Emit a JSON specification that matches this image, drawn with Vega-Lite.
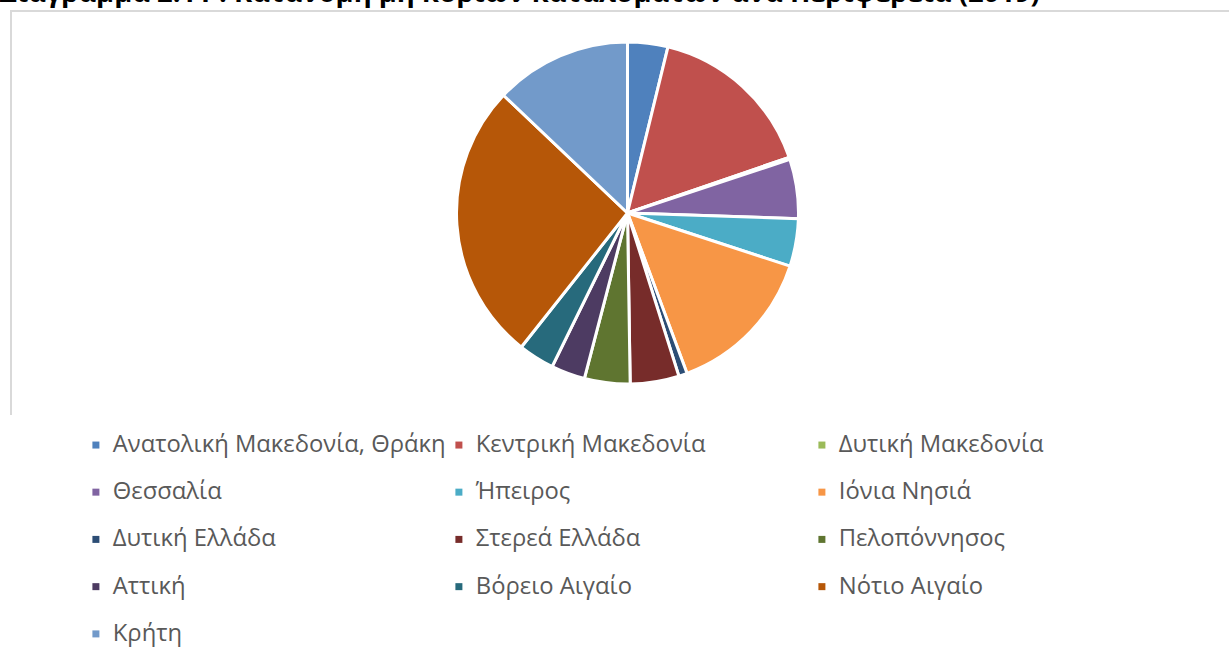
{
  "$schema": "https://vega.github.io/schema/vega-lite/v6.json",
  "width": 1233,
  "height": 404,
  "autosize": {"type": "none"},
  "padding": {"left": 11, "top": 11, "right": -15, "bottom": 239},
  "background": "white",
  "view": {"stroke": "#d9d9d9", "strokeWidth": 2, "strokeDash": [1233, 1637, 404]},
  "title": {
    "text": "Διάγραμμα 2.11 : Κατανομή μη κυρίων καταλυμάτων ανά Περιφέρεια (2019)",
    "anchor": "start",
    "font": "Open Sans",
    "fontSize": 27.4,
    "fontWeight": "bold",
    "color": "#000000",
    "offset": -18,
    "dx": -12,
    "baseline": "alphabetic"
  },
  "data": {
    "values": [
      {"region": "Ανατολική Μακεδονία, Θράκη", "share": 3.8},
      {"region": "Κεντρική Μακεδονία", "share": 15.9},
      {"region": "Δυτική Μακεδονία", "share": 0.2},
      {"region": "Θεσσαλία", "share": 5.6},
      {"region": "Ήπειρος", "share": 4.5},
      {"region": "Ιόνια Νησιά", "share": 14.3},
      {"region": "Δυτική Ελλάδα", "share": 0.8},
      {"region": "Στερεά Ελλάδα", "share": 4.6},
      {"region": "Πελοπόννησος", "share": 4.3},
      {"region": "Αττική", "share": 3.2},
      {"region": "Βόρειο Αιγαίο", "share": 3.4},
      {"region": "Νότιο Αιγαίο", "share": 26.4},
      {"region": "Κρήτη", "share": 12.9}
    ]
  },
  "transform": [{"window": [{"op": "row_number", "as": "idx"}]}],
  "mark": {"type": "arc", "radius": 171, "stroke": "white", "strokeWidth": 3},
  "encoding": {
    "theta": {"field": "share", "type": "quantitative", "stack": true},
    "order": {"field": "idx", "type": "quantitative"},
    "color": {
      "field": "region",
      "type": "nominal",
      "scale": {
        "domain": ["Ανατολική Μακεδονία, Θράκη", "Κεντρική Μακεδονία", "Δυτική Μακεδονία", "Θεσσαλία", "Ήπειρος", "Ιόνια Νησιά", "Δυτική Ελλάδα", "Στερεά Ελλάδα", "Πελοπόννησος", "Αττική", "Βόρειο Αιγαίο", "Νότιο Αιγαίο", "Κρήτη"],
        "range": ["#4F81BD", "#C0504D", "#9BBB59", "#8064A2", "#4BACC6", "#F79646", "#2C4D75", "#772C2A", "#5F7530", "#4D3B62", "#276A7C", "#B65708", "#729ACA"]
      },
      "legend": {
        "title": null,
        "orient": "none",
        "legendX": 73,
        "legendY": 422,
        "columns": 3,
        "direction": "horizontal",
        "gridAlign": "all",
        "symbolType": "square",
        "symbolSize": 49,
        "symbolStrokeWidth": 0,
        "labelFont": "Open Sans",
        "labelFontSize": 23.8,
        "labelColor": "#595959",
        "labelOffset": 5,
        "labelLimit": 0,
        "columnPadding": 1,
        "rowPadding": 22.25,
        "padding": 0
      }
    }
  }
}
